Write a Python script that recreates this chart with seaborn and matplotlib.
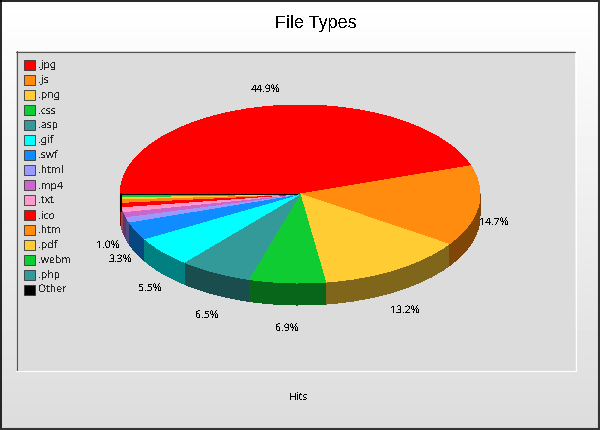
import numpy as np
import matplotlib
matplotlib.use("Agg")
import matplotlib.pyplot as plt
from matplotlib.patches import Patch, Rectangle
from matplotlib.lines import Line2D
import seaborn as sns

W, H = 600, 430

file_types = [".jpg", ".js", ".png", ".css", ".asp", ".gif", ".swf", ".html",
              ".mp4", ".txt", ".ico", ".htm", ".pdf", ".webm", ".php", "Other"]
hits_pct = [44.9, 14.7, 13.2, 6.9, 6.5, 5.5, 3.3, 1.0,
            0.9, 0.9, 0.8, 0.6, 0.4, 0.3, 0.1, 0.1]
base_colors = ["#ff0000", "#ff8c0f", "#ffcc33", "#0fcc33", "#339999", "#00ffff",
               "#0f8cff", "#9999ff", "#cc66cc", "#ff99cc", "#ff0000", "#ff8c0f",
               "#ffcc33", "#0fcc33", "#339999", "#000000"]

# percent labels that get drawn, with their pixel centres
pct_labels = ["44.9%", "14.7%", "13.2%", "6.9%", "6.5%", "5.5%", "3.3%", "1.0%"]
pct_xy = [(265, 89), (494, 222), (405, 310), (287, 328), (207, 315), (150, 288), (120, 259), (108, 245)]

sns.set_style("white")
plt.rcParams["font.family"] = ["Noto Sans", "DejaVu Sans"]
plt.rcParams["text.hinting"] = "native"
plt.rcParams["text.antialiased"] = False

palette = sns.color_palette(base_colors)
side_palette = [tuple(c * 0.5 for c in col) for col in palette]

fig = plt.figure(figsize=(W / 100, H / 100), dpi=100)

# full figure background, pixel coords
bg = fig.add_axes([0, 0, 1, 1])
bg.axis("off")
grad = np.linspace(1.0, 0.863, 215).reshape(-1, 1)
bg.imshow(grad, extent=(0, W, H, 0), cmap="gray", vmin=0, vmax=1, aspect="auto")
bg.set_xlim(0, W)
bg.set_ylim(H, 0)

# plot area and its bevel
bg.add_patch(Rectangle((16, 51), 559, 320, fc="#dcdcdc", ec="none"))
bg.add_line(Line2D([16, 575], [51.5, 51.5], color="#555555", lw=0.8))
bg.add_line(Line2D([16.5, 16.5], [51, 371], color="#555555", lw=0.8))
bg.add_line(Line2D([16, 575], [370.5, 370.5], color="white", lw=0.8))
bg.add_line(Line2D([575.5, 575.5], [51, 371], color="white", lw=0.8))

# window frame
bg.add_line(Line2D([0, W], [0.5, 0.5], color="black", lw=1.2))
bg.add_line(Line2D([0.5, 0.5], [0, H], color="black", lw=1.2))
bg.add_line(Line2D([W - 1, W - 1], [0, H], color="#333333", lw=1.5))
bg.add_line(Line2D([0, W], [H - 1, H - 1], color="#333333", lw=1.5))

# pie, squashed by turning the equal aspect off, sides are stacked pies
left, right, top, face_bottom, depth_px = 120, 480, 105, 283, 22
ry_px = (face_bottom - top) / 2
depth = depth_px / ry_px
ax = fig.add_axes([left / W, 1 - (face_bottom + depth_px) / H,
                   (right - left) / W, (face_bottom + depth_px - top) / H])
ax.patch.set_alpha(0)
wedge_style = {"antialiased": False, "linewidth": 0}
for i in range(depth_px, 0, -1):
    ax.pie(hits_pct, colors=side_palette, startangle=180, counterclock=False,
           center=(0, -depth * i / depth_px), wedgeprops=wedge_style)
# the black side sliver of "Other" at the far left
ax.plot([-0.995, -0.995], [0, -depth * 0.75], color="black", lw=1.5, clip_on=False)
ax.pie(hits_pct, colors=palette, startangle=180, counterclock=False,
       wedgeprops=wedge_style)
ax.set_aspect("auto")
ax.set_xlim(-1, 1)
ax.set_ylim(-1 - depth, 1)
ax.axis("off")

for txt, (x, y) in zip(pct_labels, pct_xy):
    bg.text(x, y, txt, ha="center", va="center", fontsize=7.5, color="black")

handles = [Patch(fc=c, ec="#333333", lw=0.6) for c in palette]
fig.legend(handles, file_types, loc="upper left",
           bbox_to_anchor=(24 / W, 1 - 60 / H), bbox_transform=fig.transFigure,
           frameon=False, fontsize=7.5, ncol=1, borderpad=0, borderaxespad=0,
           handlelength=1.05, handleheight=1.05, handletextpad=0.3, labelspacing=0.395)

bg.text(315.5, 23, "File Types", ha="center", va="center", fontsize=13, color="black",
        family="Liberation Sans")
bg.text(299, 397, "Hits", ha="center", va="center", fontsize=7.5, color="black")

fig.savefig("out.png", dpi=100)
